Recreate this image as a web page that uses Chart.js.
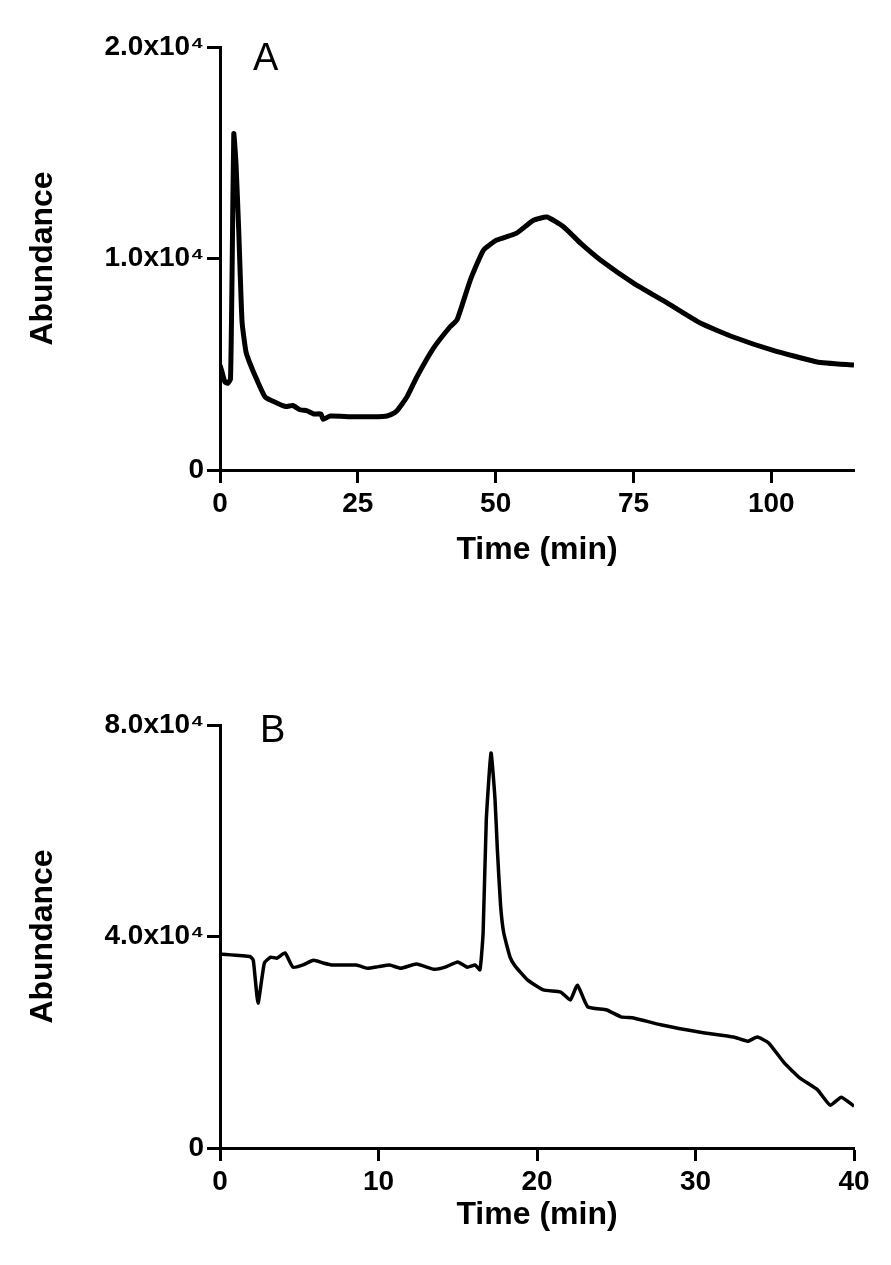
<!DOCTYPE html>
<html lang="en">
<head>
  <meta charset="UTF-8">
  <title>Abundance vs time</title>
  <script src="https://cdn.jsdelivr.net/npm/chart.js"></script>
  <style>
    body {
      margin: 0;
      background: #fff;
      width: 891px;
      height: 1265px;
      position: relative;
      overflow: hidden;
    }
    canvas {
      position: absolute;
      left: 0;
    }
    #chartA { top: 0; }
    #chartB { top: 620px; }
  </style>
</head>
<body>
  <canvas id="chartA" width="891" height="620"></canvas>
  <canvas id="chartB" width="891" height="645"></canvas>

  <script>
    // Panel A
    const timeA = [0, 0.3, 0.9, 1.4, 1.9, 2.2, 2.5, 2.9, 3.4, 4.0, 4.7, 5.4, 6.7, 8.2, 10.3, 12, 13.2, 14.5, 15.8, 17, 18.3, 18.7, 20, 23.6, 26, 29.6, 31, 32.1, 33.9, 35.7, 38.7, 41.7, 43.0, 45.4, 47.8, 50.2, 53.8, 56.8, 59.3, 62.3, 65.5, 69.0, 75.0, 81.1, 87.1, 93.1, 100.2, 108.3, 115];
    const abundA = [4950, 4700, 4150, 4100, 4300, 9500, 15900, 14500, 11300, 7000, 5600, 5060, 4260, 3450, 3170, 3000, 3050, 2850, 2800, 2650, 2650, 2400, 2550, 2520, 2520, 2530, 2620, 2800, 3450, 4400, 5750, 6760, 7100, 8980, 10400, 10870, 11200, 11800, 11960, 11500, 10700, 9930, 8840, 7900, 6950, 6290, 5670, 5110, 4960];
    const xTicksA = [0, 25, 50, 75, 100];

    // Panel B
    const timeB = [0, 1.9, 2.1, 2.4, 2.8, 3.2, 3.6, 4.1, 4.6, 5.2, 5.9, 6.5, 7.1, 8.6, 9.3, 10.0, 10.7, 11.4, 12.4, 13.5, 14.2, 15.0, 15.6, 16.1, 16.4, 16.6, 16.8, 17.1, 17.35, 17.5, 17.7, 17.9, 18.3, 18.6, 19.4, 20.4, 21.5, 22.1, 22.55, 23.2, 24.4, 25.3, 26.1, 27.8, 30.3, 32.4, 33.3, 33.9, 34.6, 35.6, 36.6, 37.7, 38.5, 39.2, 40];
    const abundB = [36700, 36200, 35500, 27400, 35000, 36100, 35900, 36900, 34200, 34600, 35500, 35000, 34600, 34600, 34000, 34300, 34600, 34000, 34800, 33800, 34200, 35200, 34200, 34600, 33700, 40700, 62000, 74700, 66000, 56400, 46000, 40700, 36100, 34500, 31800, 29900, 29500, 28000, 30800, 26700, 26100, 24800, 24600, 23300, 21900, 21000, 20200, 21000, 19900, 16100, 13200, 11000, 8100, 9600, 7900];

    Chart.defaults.font.family = '"Liberation Sans", Arial, sans-serif';
    Chart.defaults.font.weight = 'bold';
    Chart.defaults.color = '#000';

    const panelLabel = {
      id: 'panelLabel',
      afterDraw(chart, args, opts) {
        const c = chart.ctx;
        c.save();
        c.font = '38px "Liberation Sans", Arial, sans-serif';
        c.fillStyle = '#000';
        c.textBaseline = 'alphabetic';
        c.fillText(opts.text, chart.chartArea.left + opts.dx, chart.chartArea.top + opts.dy);
        c.restore();
      }
    };

    function sciLabel(v) {
      return v === 0 ? '0' : (v / 10000).toFixed(1) + 'x10\u2074';
    }

    function axisStyle() {
      return {
        grid: { display: true, drawOnChartArea: false, drawTicks: true, tickLength: 13, tickWidth: 3, tickColor: '#000' },
        border: { display: true, width: 3, color: '#000' }
      };
    }

    function makeChart(id, xs, ys, opt) {
      const pts = xs.map((x, i) => ({ x: x, y: ys[i] }));
      return new Chart(document.getElementById(id), {
        type: 'line',
        data: {
          datasets: [{
            data: pts,
            borderColor: '#000',
            borderWidth: opt.lineWidth,
            pointRadius: 0,
            tension: 0.15,
            fill: false
          }]
        },
        options: {
          responsive: false,
          animation: false,
          layout: { padding: { top: opt.top, right: 37, left: 0, bottom: 0 } },
          plugins: {
            legend: { display: false },
            tooltip: { enabled: false },
            panelLabel: { text: opt.label, dx: opt.labelDx, dy: opt.labelDy }
          },
          scales: {
            x: {
              type: 'linear',
              min: 0,
              max: opt.xMax,
              ...axisStyle(),
              afterBuildTicks: opt.xTicks ? (s) => { s.ticks = opt.xTicks.map(v => ({ value: v })); } : undefined,
              afterFit: (s) => { s.height = opt.xHeight; },
              ticks: { stepSize: opt.xStep, padding: 4, font: { size: 28, weight: 'bold' }, maxRotation: 0 },
              title: { display: true, text: 'Time (min)', font: { size: 32, weight: 'bold' }, padding: { top: 0, bottom: opt.xTitlePad } }
            },
            y: {
              min: 0,
              max: opt.yMax,
              ...axisStyle(),
              afterFit: (s) => { s.width = 220; },
              ticks: { stepSize: opt.yStep, padding: 3, font: { size: 28, weight: 'bold' }, callback: sciLabel },
              title: { display: true, text: 'Abundance', font: { size: 32, weight: 'bold' }, padding: { top: 24, bottom: 0 } }
            }
          }
        },
        plugins: [panelLabel]
      });
    }

    makeChart('chartA', timeA, abundA, {
      top: 47, xHeight: 150, xMax: 115, xTicks: xTicksA, xStep: 25, xTitlePad: 51,
      yMax: 20000, yStep: 10000, lineWidth: 5, label: 'A', labelDx: 33, labelDy: 23
    });

    makeChart('chartB', timeB, abundB, {
      top: 105, xHeight: 117, xMax: 40, xTicks: null, xStep: 10, xTitlePad: 31,
      yMax: 80000, yStep: 40000, lineWidth: 3.5, label: 'B', labelDx: 40, labelDy: 17
    });
  </script>
</body>
</html>
